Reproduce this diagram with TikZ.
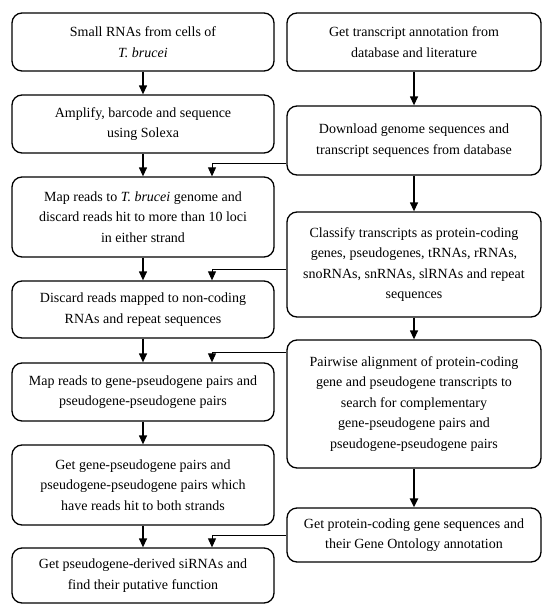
\documentclass[tikz,border=0pt]{standalone}
\usepackage{fontspec}
\setmainfont{Liberation Serif}
\usetikzlibrary{arrows.meta}
\begin{document}
\begin{tikzpicture}[x=1pt,y=-1pt]
        		\tikzstyle{stage}=[draw=black,line width=1.3pt,rounded corners=10pt,align=center,inner sep=0pt,
        		                   font=\fontsize{14}{20.5}\selectfont]
        		\tikzstyle{leftstage}=[stage,minimum width=262pt]
        		\tikzstyle{rightstage}=[stage,minimum width=254pt]
        		\tikzstyle{edge}=[draw,line width=1.3pt,-{Triangle[length=9pt,width=8pt]}]
        		\tikzstyle{feed}=[draw,line width=0.9pt,-{Triangle[length=9pt,width=8pt]}]
        		\useasboundingbox (0,0) rectangle (542,606);
       			\begin{scope}
			        % left column
			        \node [leftstage,minimum height=58pt] (l1) at (143,42) {Small RNAs from cells of\\\textit{T. brucei}};
			        \node [leftstage,minimum height=58pt] (l2) at (143,124) {Amplify, barcode and sequence\\using Solexa};
			        \node [leftstage,minimum height=80pt] (l3) at (143,217) {Map reads to \textit{T. brucei} genome and\\discard reads hit to more than 10 loci\\in either strand};
			        \node [leftstage,minimum height=57pt] (l4) at (143,309.5) {Discard reads mapped to non-coding\\RNAs and repeat sequences};
			        \node [leftstage,minimum height=58pt] (l5) at (143,392) {Map reads to gene-pseudogene pairs and\\pseudogene-pseudogene pairs};
			        \node [leftstage,minimum height=80pt] (l6) at (143,485) {Get gene-pseudogene pairs and\\pseudogene-pseudogene pairs which\\have reads hit to both strands};
			        \node [leftstage,minimum height=55pt] (l7) at (143,575.5) {Get pseudogene-derived siRNAs and\\find their putative function};
			        % right column
			        \node [rightstage,minimum height=58pt] (r1) at (414,42) {Get transcript annotation from\\database and literature};
			        \node [rightstage,minimum height=69pt] (r2) at (414,140.5) {Download genome sequences and\\transcript sequences from database};
			        \node [rightstage,minimum height=105pt] (r3) at (414,264.5) {Classify transcripts as protein-coding\\genes, pseudogenes, tRNAs, rRNAs,\\snoRNAs, snRNAs, slRNAs and repeat\\sequences};
			        \node [rightstage,minimum height=128pt] (r4) at (414,404) {Pairwise alignment of protein-coding\\gene and pseudogene transcripts to\\search for complementary\\gene-pseudogene pairs and\\pseudogene-pseudogene pairs};
			        \node [rightstage,minimum height=54pt] (r5) at (414,535) {Get protein-coding gene sequences and\\their Gene Ontology annotation};
			        % joints
			        \coordinate (j1) at (212,163);
			        \coordinate (j2) at (212,269);
			        \coordinate (j3) at (212,352);
			        \coordinate (j4) at (212,535);
			        \path[edge] (l1) -- (l2);
			        \path[edge] (l2) -- (l3);
			        \path[edge] (l3) -- (l4);
			        \path[edge] (l4) -- (l5);
			        \path[edge] (l5) -- (l6);
			        \path[edge] (l6) -- (l7);
			        \path[edge] (r1) -- (r2);
			        \path[edge] (r2) -- (r3);
			        \path[edge] (r3) -- (r4);
			        \path[edge,line width=2.2pt] (r4) -- (r5);
			        \path[feed] (r2.west |- j1) -- (j1) -- (j1 |- l3.north);
			        \path[feed] (r3.west |- j2) -- (j2) -- (j2 |- l4.north);
			        \path[feed] (r4.west |- j3) -- (j3) -- (j3 |- l5.north);
			        \path[feed] (r5.west |- j4) -- (j4) -- (j4 |- l7.north);
        		\end{scope}
      		\end{tikzpicture}
\end{document}
